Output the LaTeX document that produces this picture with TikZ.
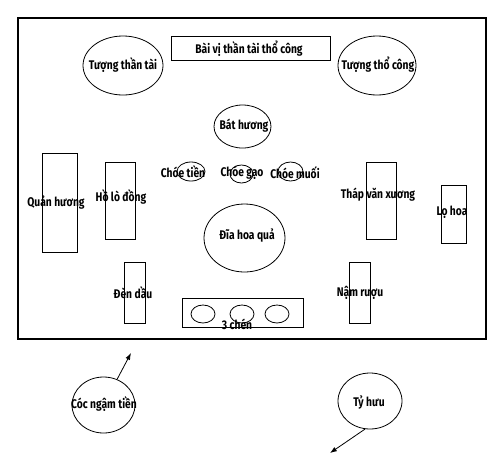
\documentclass[tikz,border=0pt]{standalone}
\usepackage{fontspec}
\setmainfont{Fira Sans}[FakeStretch=0.82]
\usetikzlibrary{arrows.meta,shapes.geometric}

\begin{document}
\begin{tikzpicture}[
  x=0.75pt,y=-0.75pt,
  box/.style={draw,line width=0.6pt,inner sep=0pt},
  oval/.style={draw,ellipse,line width=0.6pt,inner sep=0pt},
  sz/.style 2 args={minimum width=#1*0.75pt,minimum height=#2*0.75pt},
  txt/.style={font=\fontsize{9.4}{11}\selectfont\bfseries,inner sep=0pt},
  arr/.style={-{Latex[length=1.8mm,width=1.3mm]},line width=0.6pt}
]
  \useasboundingbox (0,0) rectangle (500,458);
  % altar table
  \node[box,line width=0.8pt,sz={468}{321}] (table) at (252,178.5) {};
  \node[box,sz={159}{24}] (title) at (250.5,48) {};
  \node[txt] (titleT) at (249,49) {Bài vị thần tài thổ công};
  \node[oval,sz={80}{59}] (than) at (123,65.5) {};
  \node[txt] (thanT) at (123,65) {Tượng thần tài};
  \node[oval,sz={78}{59}] (tho) at (377,65.5) {};
  \node[txt] (thoT) at (378,65) {Tượng thổ công};
  \node[oval,sz={57}{43}] (bat) at (242.5,126.5) {};
  \node[txt] (batT) at (244,126) {Bát hương};
  % jars
  \node[oval,sz={28}{19}] (tien) at (191,171.5) {};
  \node[txt] (tienT) at (183,172) {Chóe tiền};
  \node[oval,sz={23}{18}] (gao) at (241.5,174) {};
  \node[txt] (gaoT) at (242,173) {Chóe gạo};
  \node[oval,sz={25}{19}] (muoi) at (290.5,171.5) {};
  \node[txt] (muoiT) at (295,173) {Chóe muối};
  % left side
  \node[box,sz={35}{99}] (quan) at (59.5,202.5) {};
  \node[txt] (quanT) at (56,203) {Quản hương};
  \node[box,sz={30}{77}] (holo) at (120,200.5) {};
  \node[txt] (holoT) at (121,197) {Hồ lò đồng};
  \node[box,sz={21}{61}] (den) at (134.5,292.5) {};
  \node[txt] (denT) at (133,293) {Đèn dầu};
  % middle
  \node[oval,sz={81}{68}] (dia) at (244.5,238) {};
  \node[txt] (diaT) at (247,236) {Đĩa hoa quả};
  \node[box,sz={121}{29}] (chen) at (242.5,312.5) {};
  \foreach \cx [count=\i] in {203,242,277}
    \node[oval,sz={24}{18}] (cup\i) at (\cx,314) {};
  \node[txt] (chenT) at (237,324) {3 chén};
  % right side
  \node[box,sz={30}{77}] (thap) at (381,200.5) {};
  \node[txt] (thapT) at (378,195) {Tháp văn xương};
  \node[box,sz={25}{58}] (lo) at (453.5,214) {};
  \node[txt] (loT) at (452,212) {Lọ hoa};
  \node[box,sz={21}{61}] (nam) at (359.5,292.5) {};
  \node[txt] (namT) at (360,293) {Nậm rượu};
  % floor
  \node[oval,sz={63}{56}] (coc) at (103.5,405) {};
  \node[txt] (cocT) at (104,404) {Cóc ngậm tiền};
  \node[oval,sz={64}{56}] (tyhuu) at (370,401) {};
  \node[txt] (tyhuuT) at (369,403) {Tỷ hưu};
  \coordinate (cocTip) at (131,353);
  \coordinate (tyTip) at (330,453);
  \draw[arr] (coc) -- (cocTip);
  \draw[arr] (tyhuu.260) -- (tyTip);
\end{tikzpicture}
\end{document}
